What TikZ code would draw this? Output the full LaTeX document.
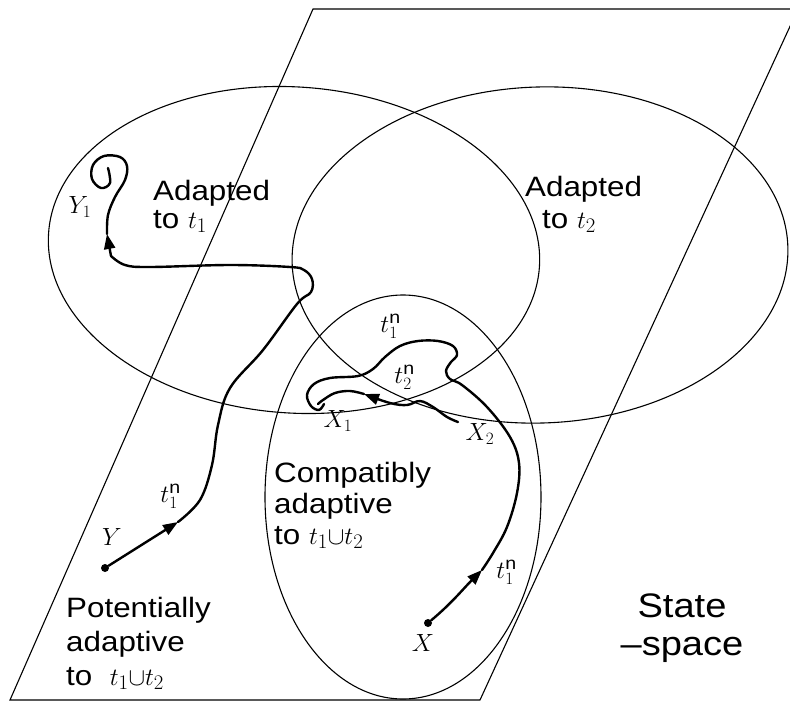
\documentclass[tikz,border=0pt]{standalone}
\usepackage{fontspec}
\setmainfont{Liberation Sans}[FakeStretch=1.12]
\usetikzlibrary{arrows.meta}

\begin{document}
\begin{tikzpicture}[x=1pt, y=-1pt,
  region/.style={draw, line width=1.1pt},
  traj/.style={draw, line width=2.4pt, line cap=round, line join=round},
  tipped/.style={traj, -{Triangle[length=15pt, width=11pt]}},
  lbl/.style={font=\fontsize{28}{#1}\selectfont, align=left, inner sep=0pt, anchor=base west},
  sym/.style={font=\fontsize{25}{30}\selectfont, inner sep=0pt},
  dot/.style={fill, circle, inner sep=0pt, minimum size=8pt}]

\useasboundingbox (0,0) rectangle (790,704);
\clip (0,0) rectangle (790,704);

% ---------------- state space ----------------
\draw[region] (10,700) -- (480,700) -- (798,9) -- (313,9) -- cycle;

% ---------------- the three regions ----------------
\draw[region, rotate around={-4:(294,250)}] (294,250) ellipse [x radius=246pt, y radius=163pt];
\draw[region, rotate around={2:(540,255)}] (540,255) ellipse [x radius=248pt, y radius=168pt];
\draw[region] (403,497) ellipse [x radius=138pt, y radius=202pt];

% ---------------- start points ----------------
\node[dot] (Y) at (105,568) {};
\node[dot] (X) at (428,623) {};
\coordinate (Ya)  at (178,522);
\coordinate (Yb)  at (111,256);
\coordinate (Yc)  at (107,234);
\coordinate (Xa)  at (482,570);
\coordinate (Xb)  at (450,379);
\coordinate (Xc)  at (458,422);
\coordinate (Xd)  at (364,394);

% trajectory from Y, ending in the loop at Y1
\draw[tipped] (Y) -- (Ya);
\draw[traj] plot[smooth, tension=0.6] coordinates {(Ya) (200,500) (212,465) (218,425)
  (230,388) (263,350) (297,304) (311,292) (312,279) (304,270) (290,267) (230,265)
  (150,267) (125,265) (Yb)};
\draw[tipped] (Yb) -- (Yc);
\draw[traj] plot[smooth, tension=0.6] coordinates {(Yc) (108,215) (115,197) (125,180)
  (127,166) (120,157) (104,156) (93,165) (92,179) (101,188) (110,183) (108,168)};

% trajectory from X, round t2 and into the curl at X1
\draw[tipped] (X) to[out=40, in=225] (Xa);
\draw[traj] plot[smooth, tension=0.6] coordinates {(Xa) (493,553) (507,527) (517,493)
  (519,463) (510,437) (487,407) (462,385) (Xb) (446,371) (451,362) (457,355)
  (453,346) (438,341) (418,341) (400,346) (385,357) (373,369) (358,376) (330,378)
  (314,384) (307,395) (311,406) (319,410) (324,404)};

% from X2 back to X1
\draw[tipped] plot[smooth, tension=0.6] coordinates {(Xc) (447,417) (433,407)
  (420,401) (407,405) (390,403) (Xd)};
\draw[traj] plot[smooth, tension=0.6] coordinates {(Xd) (350,391) (335,393) (323,400)
  (318,404)};

% ---------------- symbols ----------------
\node[sym] (labY1)  at (80,207)  {$Y_1$};
\node[sym] (labY)   at (112,537) {$Y$};
\node[sym] (labT1y) at (170,496) {$t_1^{\mathrm{n}}$};
\node[sym] (labT1t) at (390,326) {$t_1^{\mathrm{n}}$};
\node[sym] (labT2)  at (404,377) {$t_2^{\mathrm{n}}$};
\node[sym] (labX1)  at (338,421) {$X_1$};
\node[sym] (labX2)  at (480,434) {$X_2$};
\node[sym] (labT1x) at (506,572) {$t_1^{\mathrm{n}}$};
\node[sym] (labX)   at (423,643) {$X$};

% ---------------- region names (placed at the last baseline) ----------------
\node[lbl=28] (lblAdapt1) at (153,228) {Adapted\\to $t_1$};
\node[lbl=32] (lblAdapt2) at (525,228) {Adapted\\\hspace{17pt}to $t_2$};
\node[lbl=31] (lblCompat) at (274,544) {Compatibly\\adaptive\\to $t_1{\cup}t_2$};
\node[lbl=34] (lblPotent) at (66,685)  {Potentially\\adaptive\\to \ $t_1{\cup}t_2$};
\node[font=\fontsize{34}{38}\selectfont, align=center, inner sep=0pt, anchor=base]
  (lblState) at (682,655) {State\\--space};

\end{tikzpicture}
\end{document}
